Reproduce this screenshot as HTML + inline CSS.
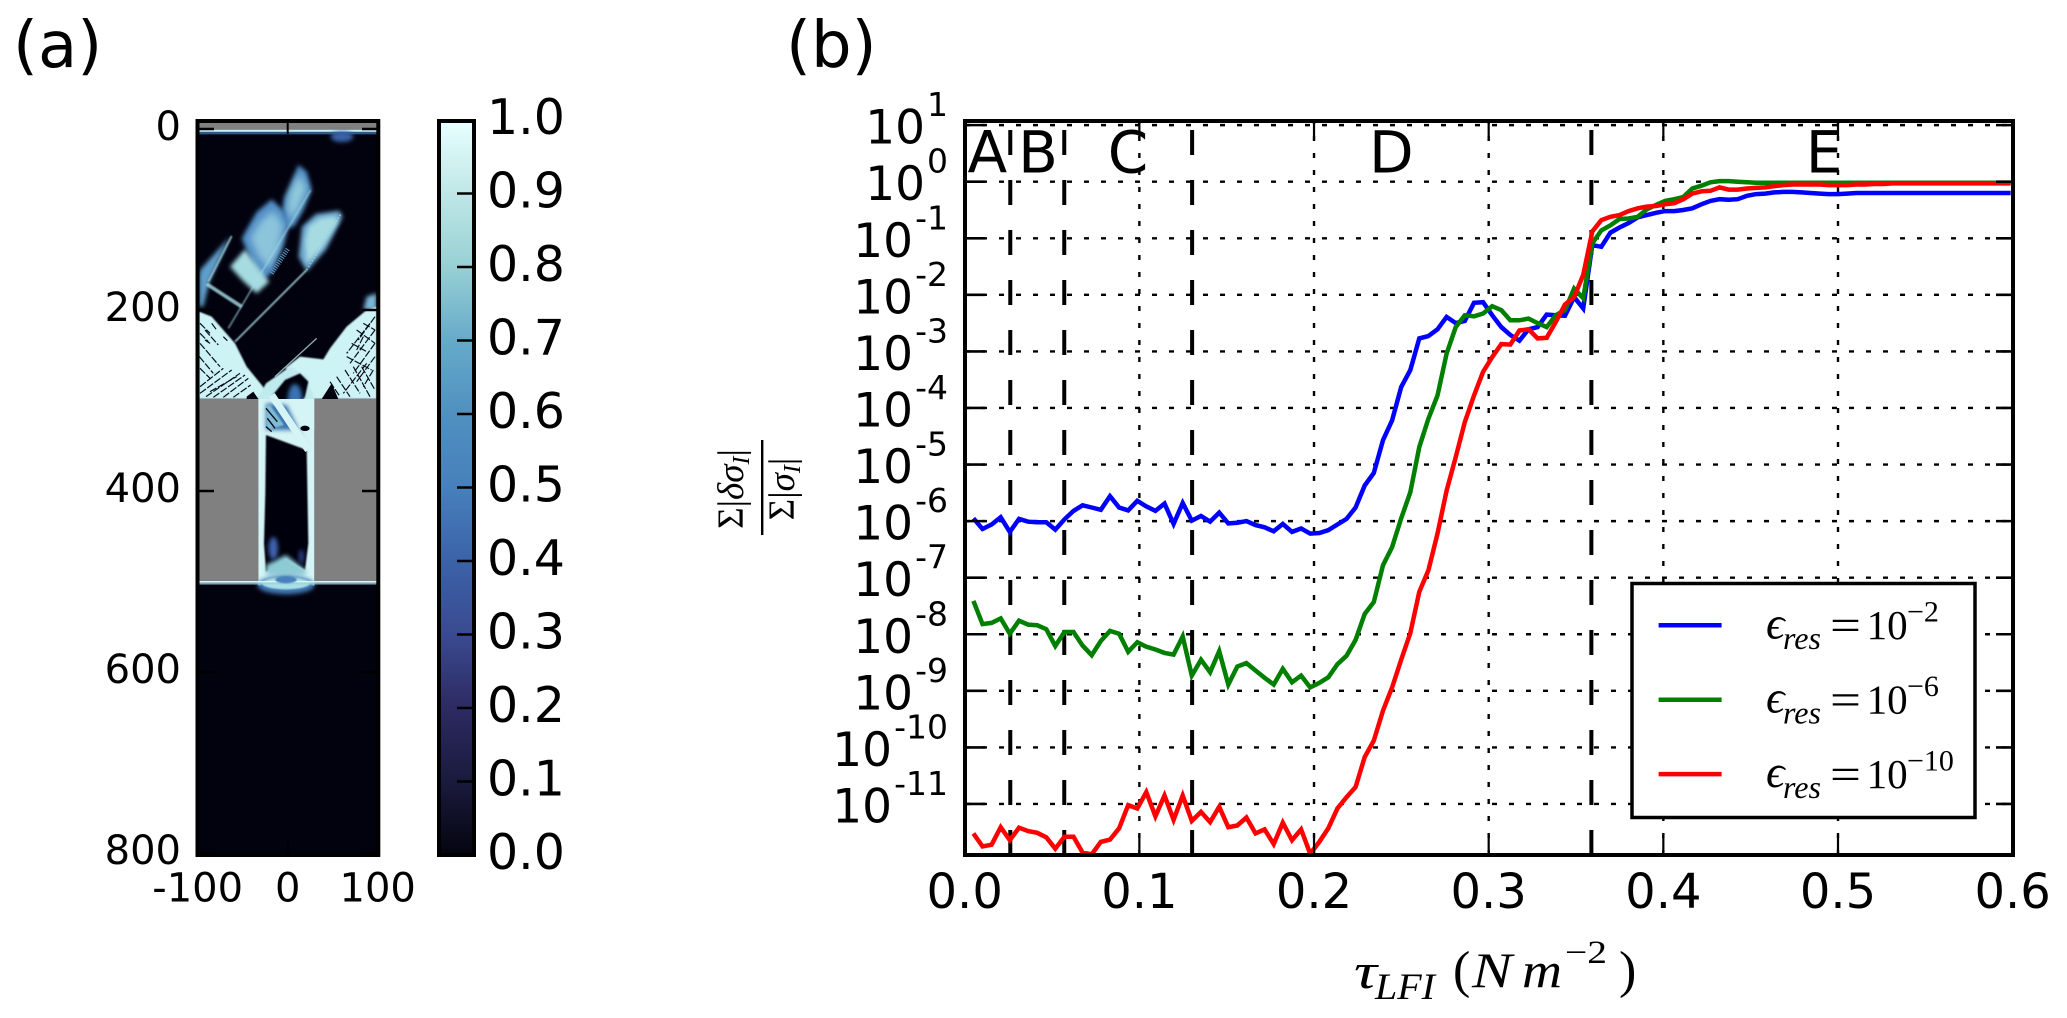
<!DOCTYPE html>
<html lang="en">
<head>
<meta charset="utf-8">
<title>Panels (a) and (b)</title>
<style>
html,body{margin:0;padding:0;background:#fff;}
svg{display:block;}
.dj{font-family:"DejaVu Sans","Liberation Sans",sans-serif;fill:#000;}
.se{font-family:"Liberation Serif","DejaVu Serif",serif;fill:#000;}
</style>
</head>
<body>
<svg id="fig" xmlns="http://www.w3.org/2000/svg" width="2067" height="1018" viewBox="0 0 2067 1018">
  <defs>
    <linearGradient id="iceGrad" x1="0" y1="1" x2="0" y2="0">
      <stop offset="0" stop-color="#04040f"/>
      <stop offset="0.1" stop-color="#1a1a3d"/>
      <stop offset="0.2" stop-color="#2d2a62"/>
      <stop offset="0.3" stop-color="#3a4a90"/>
      <stop offset="0.4" stop-color="#3b62a8"/>
      <stop offset="0.5" stop-color="#4780bb"/>
      <stop offset="0.6" stop-color="#4f90c0"/>
      <stop offset="0.7" stop-color="#66aac9"/>
      <stop offset="0.8" stop-color="#97d0d4"/>
      <stop offset="0.9" stop-color="#bfe6e6"/>
      <stop offset="1" stop-color="#e8ffff"/>
    </linearGradient>
    <filter id="b2" x="-30%" y="-30%" width="160%" height="160%"><feGaussianBlur stdDeviation="2.5"/></filter>
    <filter id="b6" x="-40%" y="-40%" width="180%" height="180%"><feGaussianBlur stdDeviation="6"/></filter>
    <filter id="b10" x="-40%" y="-40%" width="180%" height="180%"><feGaussianBlur stdDeviation="11"/></filter>
    <clipPath id="plotClip"><rect x="965" y="121" width="1048" height="734"/></clipPath>
    <clipPath id="imgClip"><rect x="27" y="38" width="533" height="2197"/></clipPath>
  </defs>

  <text class="dj" x="13" y="67" font-size="64">(a)</text>
  <text class="dj" x="786" y="67" font-size="64">(b)</text>

  <!-- Panel (a) image -->
  <g transform="translate(190 110) scale(0.33333)" clip-path="url(#imgClip)">
    <rect x="27" y="38" width="533" height="2197" fill="#02020f"/>
    <rect x="27" y="38" width="533" height="21" fill="#808080"/>
    <rect x="27" y="59" width="533" height="7" fill="#c6eef2"/>
    <rect x="27" y="66" width="533" height="6" fill="#3f78b4" filter="url(#b2)"/>
    <ellipse cx="456" cy="80" rx="34" ry="16" fill="#3b62a8" filter="url(#b6)"/>

    <g>
      <polygon points="325,165 350,185 365,240 340,300 312,350 288,355 278,300 283,262 298,232" fill="#4f8cc4" filter="url(#b6)"/>
      <polygon points="328,190 350,235 325,295 302,335 292,290 300,245" fill="#93cbdc" filter="url(#b10)"/>
      <polygon points="245,268 284,305 296,350 280,405 245,490 215,510 188,465 155,385 168,362 200,306" fill="#4f8cc4" filter="url(#b6)"/>
      <polygon points="250,300 280,345 265,420 235,475 205,440 180,385 210,335" fill="#8cc4dc" filter="url(#b10)"/>
      <polygon points="120,470 165,418 218,490 238,515 200,550 158,512" fill="#a6dbe2" filter="url(#b6)"/>
      <polygon points="448,302 458,320 408,418 350,484 326,440 336,350 378,312" fill="#6ea8d0" filter="url(#b6)"/>
      <polygon points="435,318 445,335 395,415 350,460 345,395 355,350 390,325" fill="#a6dbe2" filter="url(#b6)"/>
      <polygon points="30,480 120,380 60,510 40,590 27,590 27,500" fill="#5f9ecb" filter="url(#b6)"/>
      <polygon points="530,560 560,550 560,600 520,600" fill="#7cb6d8" filter="url(#b6)"/>
      <line x1="115" y1="655" x2="362" y2="240" stroke="#a9dfe6" stroke-width="5" opacity=".6" filter="url(#b2)"/>
      <line x1="135" y1="695" x2="350" y2="480" stroke="#b8e8ee" stroke-width="5" opacity=".85" filter="url(#b2)"/>
      <line x1="350" y1="480" x2="453" y2="312" stroke="#a6dbe2" stroke-width="5" stroke-dasharray="5 5" opacity=".7"/>
      <line x1="125" y1="378" x2="55" y2="515" stroke="#a9dfe6" stroke-width="6" opacity=".75" filter="url(#b2)"/>
      <line x1="50" y1="522" x2="155" y2="590" stroke="#a9dfe6" stroke-width="11" opacity=".8" filter="url(#b2)"/>
      <line x1="35" y1="520" x2="35" y2="590" stroke="#9cd4dc" stroke-width="12" filter="url(#b2)"/>
      <line x1="245" y1="490" x2="295" y2="415" stroke="#5f9ecb" stroke-width="14" stroke-dasharray="3 4"/>
    </g>

    <g>
      <polygon points="27,605 65,620 100,660 135,700 170,770 215,825 240,860 205,867 27,867" fill="#cdf3f5" filter="url(#b2)"/>
      <polygon points="560,590 560,867 400,867 360,867 340,800 285,775 330,740 400,748 420,715 470,650 530,600" fill="#cdf3f5" filter="url(#b2)"/>
      <polygon points="205,860 228,820 300,770 350,800 373,867 373,960 205,960" fill="#bfeaee" filter="url(#b2)"/>
      <polygon points="240,865 285,810 330,790 355,815 345,860 330,880 280,890" fill="#02020f" filter="url(#b2)"/>
      <ellipse cx="315" cy="870" rx="22" ry="48" fill="#3b72b0" filter="url(#b6)"/>
      <line x1="380" y1="685" x2="255" y2="800" stroke="#b0d8dc" stroke-width="4" opacity=".8"/>
      <polygon points="170,860 190,845 205,867 170,867" fill="#02020f"/>
      <polygon points="395,867 425,820 445,867" fill="#02020f"/>
    </g>

    <g stroke="#05081a" stroke-width="3.5" fill="none" stroke-dasharray="22 5">
      <path d="M30 700L90 770M28 740L70 790M45 660L85 705M30 775L60 805M30 640L60 670M30 670L55 695"/>
      <path d="M48 860L150 790M70 862L165 795M100 862L175 805M130 862L182 825M30 850L125 780M30 830L100 775M60 845L140 800"/>
      <path d="M65 640L80 660M100 680L112 692M45 690L60 700"/>
      <path d="M540 640L470 730M555 660L480 760M520 680L500 720M555 700L490 790M555 740L500 815M550 780L520 830M555 620L505 690M530 760L460 850"/>
      <path d="M440 800L480 860M420 815L450 860M465 780L510 850M490 770L540 860M515 770L555 840"/>
      <path d="M520 640L555 660M485 700L530 725M470 740L545 780M500 660L555 700"/>
    </g>

    <g>
      <rect x="27" y="867" width="178" height="546" fill="#808080"/>
      <rect x="373" y="867" width="187" height="546" fill="#808080"/>
    </g>

    <g>
      <rect x="205" y="867" width="168" height="560" fill="#d5f4f5"/>
      <polygon points="228,975 350,1020 355,1300 345,1380 288,1345 228,1385 222,1300 226,1150" fill="#02020f" filter="url(#b2)"/>
      <polygon points="228,1365 288,1335 352,1385 345,1395 228,1395" fill="#8ccad4" filter="url(#b6)"/>
      <ellipse cx="250" cy="1315" rx="14" ry="34" fill="#3f63ad" filter="url(#b6)"/>
      <ellipse cx="334" cy="1340" rx="8" ry="22" fill="#2b3f84" filter="url(#b6)"/>
      <polygon points="228,880 290,885 355,1020 350,1005 320,960 228,960" fill="#3b72b0" filter="url(#b6)"/>
      <line x1="245" y1="855" x2="355" y2="1020" stroke="#d5f4f5" stroke-width="22"/>
      <polygon points="228,885 240,885 282,945 232,960" fill="#7fbcd4" filter="url(#b2)"/>
      <ellipse cx="345" cy="955" rx="14" ry="8" fill="#02020f"/>
      <path d="M228 895L262 935M232 925L255 955M228 950L245 965" stroke="#05081a" stroke-width="4" fill="none"/>
      <line x1="228" y1="1000" x2="228" y2="1340" stroke="#3f63ad" stroke-width="6" filter="url(#b2)"/>
      <line x1="352" y1="1020" x2="352" y2="1340" stroke="#3f63ad" stroke-width="5" filter="url(#b2)"/>
    </g>

    <g>
      <ellipse cx="288" cy="1425" rx="86" ry="28" fill="#3f78b4" filter="url(#b6)"/>
      <ellipse cx="288" cy="1420" rx="72" ry="18" fill="#a9dfe6" filter="url(#b2)"/>
      <rect x="27" y="1413" width="533" height="5" fill="#e2f9fa"/>
      <rect x="27" y="1417" width="533" height="6" fill="#9cd4dc" filter="url(#b2)"/>
      <ellipse cx="288" cy="1409" rx="32" ry="11" fill="#4780bb" filter="url(#b2)"/>
    </g>
  </g>
  <rect x="197.5" y="121" width="180.8" height="734" fill="none" stroke="#000" stroke-width="4"/>
  <g id="imgTicks"></g>

  <!-- colorbar -->
  <rect x="439" y="121" width="35" height="734" fill="url(#iceGrad)" stroke="#000" stroke-width="4"/>
  <g id="cbTicks"></g>

  <!-- Panel (b) -->
  <g id="gridG"></g>
  <g id="boundG"></g>
  <g id="lettersG"></g>
  <g id="linesG" clip-path="url(#plotClip)"></g>
  <g id="ticksG"></g>
  <rect x="965" y="121" width="1048" height="734" fill="none" stroke="#000" stroke-width="4"/>
  <g id="tickLabelsG"></g>

  <g>
    <text class="se" transform="translate(743 489) rotate(-90)" text-anchor="middle" font-size="37" font-style="italic"><tspan font-style="normal">Σ|</tspan>δσ<tspan font-size="24" dy="6">I</tspan><tspan dy="-6" font-style="normal">|</tspan></text>
    <rect x="761" y="440" width="2.4" height="95" fill="#000"/>
    <text class="se" transform="translate(794 489) rotate(-90)" text-anchor="middle" font-size="37" font-style="italic"><tspan font-style="normal">Σ|</tspan>σ<tspan font-size="24" dy="6">I</tspan><tspan dy="-6" font-style="normal">|</tspan></text>
  </g>

  <g>
    <text class="se" x="1354" y="988" font-size="50" font-style="italic" textLength="23" lengthAdjust="spacingAndGlyphs">τ</text>
    <text class="se" x="1375" y="999" font-size="37" font-style="italic" textLength="60" lengthAdjust="spacingAndGlyphs">LFI</text>
    <text class="se" x="1453" y="987" font-size="52">(</text>
    <text class="se" x="1472" y="987" font-size="50" font-style="italic" textLength="40" lengthAdjust="spacingAndGlyphs">N</text>
    <text class="se" x="1522" y="987" font-size="50" font-style="italic" textLength="40" lengthAdjust="spacingAndGlyphs">m</text>
    <text class="se" x="1565" y="963" font-size="33" textLength="42" lengthAdjust="spacingAndGlyphs">−2</text>
    <text class="se" x="1619" y="987" font-size="52">)</text>
  </g>

  <g id="legendG">
    <rect x="1632" y="583.5" width="343" height="234" fill="#fff" stroke="#000" stroke-width="3.5"/>
  </g>

<script>
// ---- Panel (b) data ----
var tauValues = [.0050,.0102,.0154,.0206,.0258,.0311,.0363,.0415,.0467,.0519,.0571,.0623,.0675,.0727,.0779,.0832,.0884,.0936,.0988,.1040,.1092,.1144,.1196,.1248,.1300,.1353,.1405,.1457,.1509,.1561,.1613,.1665,.1717,.1769,.1821,.1874,.1926,.1978,.2030,.2082,.2134,.2186,.2238,.2290,.2342,.2395,.2447,.2499,.2551,.2603,.2655,.2707,.2759,.2811,.2863,.2916,.2968,.3020,.3072,.3124,.3176,.3228,.3280,.3332,.3384,.3437,.3489,.3541,.3593,.3645,.3697,.3749,.3801,.3853,.3905,.3958,.4010,.4062,.4114,.4166,.4218,.4270,.4322,.4374,.4426,.4479,.4531,.4583,.4635,.4687,.4739,.4791,.4843,.4895,.4947,.5000,.5052,.5104,.5156,.5208,.5260,.5312,.5364,.5416,.5468,.5521,.5573,.5625,.5677,.5729,.5781,.5833,.5885,.5937,.5989];
var blueLog = [-5.95,-6.14,-6.06,-5.93,-6.19,-5.96,-6.01,-6.02,-6.02,-6.15,-5.97,-5.82,-5.72,-5.76,-5.80,-5.56,-5.76,-5.81,-5.64,-5.74,-5.82,-5.69,-6.05,-5.68,-5.99,-5.91,-6.01,-5.85,-6.04,-6.03,-6.00,-6.07,-6.11,-6.18,-6.05,-6.19,-6.13,-6.22,-6.21,-6.16,-6.06,-5.96,-5.76,-5.37,-5.15,-4.57,-4.22,-3.63,-3.33,-2.77,-2.73,-2.61,-2.39,-2.50,-2.46,-2.14,-2.13,-2.36,-2.57,-2.71,-2.81,-2.61,-2.57,-2.35,-2.36,-2.37,-2.04,-2.24,-1.12,-1.15,-0.90,-0.81,-0.73,-0.63,-0.59,-0.55,-0.52,-0.52,-0.50,-0.47,-0.40,-0.34,-0.31,-0.32,-0.31,-0.25,-0.22,-0.21,-0.19,-0.18,-0.18,-0.19,-0.20,-0.21,-0.22,-0.22,-0.21,-0.20,-0.20,-0.20,-0.20,-0.20,-0.20,-0.20,-0.20,-0.20,-0.20,-0.20,-0.20,-0.20,-0.20,-0.20,-0.20,-0.20,-0.20];
var greenLog = [-7.41,-7.82,-7.80,-7.72,-7.99,-7.76,-7.83,-7.84,-7.91,-8.21,-7.96,-7.96,-8.20,-8.37,-8.12,-7.94,-7.99,-8.31,-8.14,-8.22,-8.27,-8.33,-8.36,-8.04,-8.73,-8.45,-8.67,-8.30,-8.89,-8.57,-8.51,-8.64,-8.77,-8.89,-8.61,-8.85,-8.73,-8.94,-8.86,-8.76,-8.53,-8.38,-8.10,-7.64,-7.43,-6.78,-6.46,-5.95,-5.49,-4.69,-4.19,-3.78,-3.04,-2.57,-2.36,-2.38,-2.33,-2.20,-2.27,-2.45,-2.45,-2.42,-2.50,-2.57,-2.36,-2.27,-1.89,-2.06,-1.09,-0.86,-0.77,-0.66,-0.65,-0.62,-0.49,-0.41,-0.34,-0.31,-0.27,-0.12,-0.07,-0.01,0.01,0.01,0.00,-0.01,-0.02,-0.02,-0.02,-0.02,-0.02,-0.02,-0.02,-0.02,-0.02,-0.02,-0.02,-0.02,-0.02,-0.02,-0.02,-0.02,-0.02,-0.02,-0.02,-0.02,-0.02,-0.02,-0.02,-0.02,-0.02,-0.02,-0.02,-0.02,-0.02];
var redLog = [-11.52,-11.75,-11.72,-11.41,-11.64,-11.42,-11.48,-11.51,-11.59,-11.79,-11.58,-11.58,-11.86,-11.89,-11.67,-11.63,-11.43,-11.02,-11.08,-10.79,-11.22,-10.85,-11.28,-10.85,-11.30,-11.14,-11.32,-11.05,-11.41,-11.38,-11.24,-11.52,-11.45,-11.71,-11.33,-11.64,-11.45,-11.88,-11.67,-11.43,-11.08,-10.88,-10.70,-10.17,-9.88,-9.35,-8.94,-8.45,-7.98,-7.25,-6.87,-6.22,-5.46,-4.87,-4.25,-3.78,-3.36,-3.10,-2.87,-2.88,-2.63,-2.61,-2.77,-2.76,-2.48,-2.17,-2.04,-1.65,-0.88,-0.68,-0.62,-0.59,-0.52,-0.47,-0.44,-0.43,-0.40,-0.38,-0.31,-0.21,-0.17,-0.16,-0.10,-0.14,-0.14,-0.12,-0.11,-0.10,-0.08,-0.06,-0.05,-0.05,-0.05,-0.05,-0.06,-0.06,-0.06,-0.05,-0.05,-0.04,-0.04,-0.03,-0.03,-0.03,-0.03,-0.03,-0.03,-0.03,-0.03,-0.03,-0.03,-0.03,-0.03,-0.03,-0.03];
var xTickValues = [0.0,0.1,0.2,0.3,0.4,0.5,0.6];
var xTickLabels = ['0.0','0.1','0.2','0.3','0.4','0.5','0.6'];
var yTickExponents = [1,0,-1,-2,-3,-4,-5,-6,-7,-8,-9,-10,-11];
var regionBoundaries = [0.0261,0.0570,0.1302,0.3588];
var regionLetters = ['A','B','C','D','E'];
var regionCenters = [0.0130,0.0420,0.0935,0.2443,0.4920];
var legendExponents = ['−2','−6','−10'];
var legendColors = ['#0000ff','#007f00','#ff0000'];
// ---- Panel (a) axes ----
var imgYTicks = [0,200,400,600,800];
var imgXTicks = [-100,0,100];
var cbTicks = [0.0,0.1,0.2,0.3,0.4,0.5,0.6,0.7,0.8,0.9,1.0];

var NS = 'http://www.w3.org/2000/svg';
function mk(tag, attrs, parent, txt) {
  var el = document.createElementNS(NS, tag);
  for (var k in attrs) el.setAttribute(k, attrs[k]);
  if (txt !== undefined) el.textContent = txt;
  parent.appendChild(el);
  return el;
}
function g(id) { return document.getElementById(id); }

function xScale(t) { return 964.7 + t * 1746.6; }
function yScale(d) { return 181.7 - 56.57 * d; }
function imgY(v) { return 129 + v * 0.905; }
function imgX(v) { return 287.7 + v * 0.9; }
function cbY(v) { return 855 - 735 * v; }

// grid
xTickValues.slice(1, 6).forEach(function (t) {
  var el = mk('line', {x1: xScale(t), x2: xScale(t), y1: 855, y2: 121, stroke: '#000', 'stroke-width': 2.4, 'stroke-dasharray': '5 12'}, g('gridG'));
  
  
});
yTickExponents.forEach(function (d) {
  var el = mk('line', {x1: 965, x2: 2013, y1: yScale(d), y2: yScale(d), stroke: '#000', 'stroke-width': 2.4, 'stroke-dasharray': '5 12'}, g('gridG'));
  
  
});

// dashed boundaries
regionBoundaries.forEach(function (t) {
  var el = mk('line', {x1: xScale(t), x2: xScale(t), y1: 855, y2: 125, stroke: '#000', 'stroke-width': 4, 'stroke-dasharray': '25 25'}, g('boundG'));
  
  
});

// region letters
regionLetters.forEach(function (s, i) {
  var el = mk('text', {x: xScale(regionCenters[i]), y: 172.5, 'text-anchor': 'middle', 'font-size': 58, 'class': 'dj'}, g('lettersG'), s);
  
  
});

// series
function drawSeries(vals, color, name) {
  var pts = vals.map(function (d, i) { return xScale(tauValues[i]).toFixed(1) + ',' + yScale(d).toFixed(1); }).join(' ');
  var el = mk('polyline', {points: pts, fill: 'none', stroke: color, 'stroke-width': 4.5, 'stroke-linejoin': 'miter'}, g('linesG'));
  
  
}
drawSeries(blueLog, '#0000ff', 'series-eps-1e-2');
drawSeries(greenLog, '#007f00', 'series-eps-1e-6');
drawSeries(redLog, '#ff0000', 'series-eps-1e-10');

// plot ticks
xTickValues.slice(1, 6).forEach(function (t) {
  var a = mk('line', {x1: xScale(t), x2: xScale(t), y1: 855, y2: 835, stroke: '#000', 'stroke-width': 2.2}, g('ticksG'));
  
  
  var b = mk('line', {x1: xScale(t), x2: xScale(t), y1: 121, y2: 140, stroke: '#000', 'stroke-width': 2.2}, g('ticksG'));
  
  
});
yTickExponents.forEach(function (d) {
  var a = mk('line', {x1: 965, x2: 985, y1: yScale(d), y2: yScale(d), stroke: '#000', 'stroke-width': 2.6}, g('ticksG'));
  
  
  var b = mk('line', {x1: 2013, x2: 1996, y1: yScale(d), y2: yScale(d), stroke: '#000', 'stroke-width': 2.6}, g('ticksG'));
  
  
});

// plot tick labels
xTickValues.forEach(function (t, i) {
  var el = mk('text', {x: xScale(t), y: 908, 'text-anchor': 'middle', 'font-size': 48, 'class': 'dj'}, g('tickLabelsG'), xTickLabels[i]);
  
  
});
yTickExponents.forEach(function (d) {
  var el = mk('text', {x: 948, y: yScale(d) + 18.5, 'text-anchor': 'end', 'font-size': 47, 'class': 'dj'}, g('tickLabelsG'), '10');
  mk('tspan', {'font-size': 33, dy: -27.5, dx: 2}, el, String(d));
  
  
});

// legend
legendExponents.forEach(function (exp, i) {
  var off = 74.4 * i;
  var row = mk('g', {}, g('legendG'));
  
  
  var ln = mk('line', {x1: 1658.6, x2: 1721.6, y1: 625.3 + off, y2: 625.3 + off, stroke: legendColors[i], 'stroke-width': 4.5}, row);
  
  
  mk('text', {x: 1766, y: 638.3 + off, 'font-size': 46, 'font-style': 'italic', 'class': 'se'}, row, 'ϵ');
  mk('text', {x: 1783, y: 649 + off, 'font-size': 32, 'font-style': 'italic', 'class': 'se'}, row, 'res');
  mk('text', {x: 1830, y: 640 + off, 'font-size': 44, 'class': 'se', textLength: 31, lengthAdjust: 'spacingAndGlyphs'}, row, '=');
  mk('text', {x: 1866.6, y: 639 + off, 'font-size': 41, 'class': 'se'}, row, '10');
  mk('text', {x: 1907, y: 621.7 + off, 'font-size': 30, 'class': 'se'}, row, exp);
});

// panel (a) ticks
imgYTicks.forEach(function (v) {
  var a = mk('line', {x1: 199, x2: 214, y1: imgY(v), y2: imgY(v), stroke: '#000', 'stroke-width': 2.5}, g('imgTicks'));
  
  
  var b = mk('line', {x1: 362, x2: 377, y1: imgY(v), y2: imgY(v), stroke: '#000', 'stroke-width': 2.5}, g('imgTicks'));
  
  
  var t = mk('text', {x: 181, y: imgY(v) + 11, 'text-anchor': 'end', 'font-size': 40, 'class': 'dj'}, g('imgTicks'), String(v));
  
  
});
imgXTicks.forEach(function (v) {
  var t = mk('text', {x: imgX(v), y: 901.7, 'text-anchor': 'middle', 'font-size': 40, 'class': 'dj'}, g('imgTicks'), String(v));
  
  
});
var topTick = mk('line', {x1: imgX(0), x2: imgX(0), y1: 122, y2: 134, stroke: '#000', 'stroke-width': 2}, g('imgTicks'));


var botTick = mk('line', {x1: imgX(0), x2: imgX(0), y1: 840, y2: 855, stroke: '#000', 'stroke-width': 2}, g('imgTicks'));



// colorbar ticks
cbTicks.forEach(function (v) {
  if (v > 0 && v < 1) {
    var a = mk('line', {x1: 457, x2: 473, y1: cbY(v), y2: cbY(v), stroke: '#000', 'stroke-width': 2.5}, g('cbTicks'));
    
    
  }
  var t = mk('text', {x: 487, y: cbY(v) + 14, 'font-size': 49, 'class': 'dj'}, g('cbTicks'), v.toFixed(1));
  
  
});
</script>
</svg>
</body>
</html>
